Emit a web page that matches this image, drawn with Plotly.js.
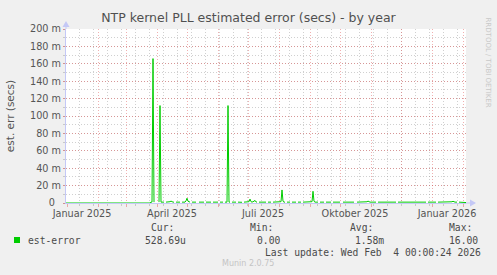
<!DOCTYPE html>
<html>
<head>
<meta charset="utf-8">
<script src="https://cdn.plot.ly/plotly-3.0.1.min.js"></script>
<style>
  html, body { margin: 0; padding: 0; background: #f0f0f0; }
  #chart { width: 497px; height: 275px; }
</style>
</head>
<body>
<div id="chart"></div>
<script>
// ---------- data (values in milliseconds) ----------
const titleText = 'NTP kernel PLL estimated error (secs) - by year';
const yTitleText = 'est. err (secs)';
const seriesName = 'est-error';
const xRange = ['2024-12-31', '2026-02-04'];

const earlyDates = ['2024-12-31', '2025-03-25'];
const earlyValues = [0, 0];

const mainStart = [2025, 2, 26]; // 2025-03-26, one value per day
const mainValues = [
  // Mar 26-31
  1, 1, 166, 1, null, null,
  // Apr
  null, null, 1, 112, 1, 1, 0.8, 1, null, 1, 1, 1.2, 1, 1.5, 2.2, 1.2, 1, 1, null, 1, 1, 0.8, 1, 1, null, 1, 1, 1.2, 1, 2.5,
  // May
  5.5, 2, 1, 1, null, 1, 1, 1.2, 1, 1, null, null, 1, 1, 1, 1.4, 1, 1, null, 1, 1, 1, 0.8, 1, 1, null, 1, 1, 1.2, 1, 1,
  // Jun
  1, null, 1, 1, 1, 1, null, 1, 1, 1, 112, 1, 1, null, 1, 1, 1, 1.2, 1, null, 1, 1, 1, 1, 0.8, null, 1, 1, 1, 1,
  // Jul
  1, 1.5, 4.5, 1.5, 1, 1.2, 2, 3, 1.2, 1, null, 1, 1, 1, 1, 1, 1.2, 1.8, 1, null, 1, 1, 1, 1, null, 1, 1, 1, 1, 1, 1,
  // Aug
  1, 1, 1.5, 15, 2, 1, 1, null, 1, 1, 1, 1, null, 1, 1, 1, 1.2, 1, null, 1, 1, 1, 1, null, 1, 1, 1, 1, 1, 1, 1,
  // Sep
  1, 1, 1.5, 13.5, 2, 1, 1, 1, 1, null, 1, 1, 1, 1, 1, null, 1, 1, 1, 1, 1, 1, null, 1, 1, 1, 1, 1, 1, 1,
  // Oct
  1, null, null, 1, 1, 1, 1, 1, 1, 1, 1, 1, 1, 1, 1, null, null, 1, 1, 1, 1, 1, 1, 1, 1, 1, 1, 1.4, 2.2, 1.2, 1,
  // Nov
  1, 1, 1, 1, 1, 1, null, 1, 1, 1, 1, 1, 1, 1, 1, 1, 1, 1, 1, 1, 1, 1, 1, 1, 1, 1, null, 1, 1, 1,
  // Dec
  1, 1, 1, 1, 1, 1, 1, 1, 1, 1.2, 1, 1, 1, 1, 1, 1, 1, 1, 1, 1, 1, 1, 1, 1, 1, 1, null, 1, 1, 1, 1,
  // Jan 2026
  1, 1, 1, 1, 1, null, 1, 1, 1, 1, 1, 1, 1, 1, 1, 1, 1, 1, 1, 1, 1.4, 2, 1.3, 1, 1, 1, null, 1, 1, 1, 1,
  // Feb 1-4
  1, 1, 1, 0.53
];

const monthStarts = ['2025-01-01','2025-02-01','2025-03-01','2025-04-01','2025-05-01','2025-06-01',
  '2025-07-01','2025-08-01','2025-09-01','2025-10-01','2025-11-01','2025-12-01','2026-01-01','2026-02-01'];
const xLabelDates = ['2025-01-16','2025-04-16','2025-07-16','2025-10-16','2026-01-16'];
const xLabelTexts = ['Januar 2025','April 2025','Juli 2025','Oktober 2025','Januar 2026'];
const yTickVals = [0, 20, 40, 60, 80, 100, 120, 140, 160, 180, 200];
const yTickTexts = ['0\u00a0\u00a0','20 m','40 m','60 m','80 m','100 m','120 m','140 m','160 m','180 m','200 m'];

const statHeaders = ['Cur:', 'Min:', 'Avg:', 'Max:'];
const statValues = ['528.69u', '0.00', '1.58m', '16.00'];
const lastUpdate = 'Last update: Wed Feb\u00a0\u00a04 00:00:24 2026';
const versionText = 'Munin 2.0.75';
const sideText = 'RRDTOOL / TOBI OETIKER';

// ---------- build ----------
const mainDates = mainValues.map((_, i) =>
  new Date(Date.UTC(mainStart[0], mainStart[1], mainStart[2] + i)).toISOString().slice(0, 10));
const xs = earlyDates.concat(mainDates);
const ys = earlyValues.concat(mainValues);

// layout geometry (pixels)
const L = 66, T = 29, W = 400, H = 174;
const px = p => (p - L) / W;
const py = p => (T + H - p) / H;

const MAJOR = 'rgba(222,80,80,0.45)';
const MINOR = 'rgba(150,150,150,0.45)';
const AXIS = '#c4c8f6';
const TXT = '#555555';
const MONO = 'DejaVu Sans Mono, monospace';

const ann = [];
const colX = [149, 248, 348, 447];
statHeaders.forEach((h, i) => ann.push({text: h, x: px(colX[i]), y: py(227)}));
ann.push({text: seriesName, x: px(26), y: py(240)});
const valX = [143, 255, 353, 447];
statValues.forEach((v, i) => ann.push({text: v, x: px(valX[i]), y: py(240)}));
ann.forEach(a => Object.assign(a, {xref: 'paper', yref: 'paper', xanchor: 'left', yanchor: 'middle',
  showarrow: false, font: {family: MONO, size: 9.7, color: '#4a4a4a'}}));
ann.push({text: lastUpdate, x: px(483), y: py(252), xref: 'paper', yref: 'paper', xanchor: 'right',
  yanchor: 'middle', showarrow: false, font: {family: MONO, size: 9.7, color: '#4a4a4a'}});
ann.push({text: versionText, x: px(248), y: py(263), xref: 'paper', yref: 'paper', xanchor: 'center',
  yanchor: 'middle', showarrow: false, font: {family: 'DejaVu Sans', size: 8, color: '#c4c4c4'}});
ann.push({text: sideText, x: px(487.5), y: py(62), xref: 'paper', yref: 'paper', xanchor: 'center',
  yanchor: 'middle', textangle: 90, showarrow: false, font: {family: 'DejaVu Sans', size: 7, color: '#c8c8c8'}});

const shapes = [
  // legend swatch
  {type: 'rect', xref: 'paper', yref: 'paper', x0: px(14), x1: px(20), y0: py(243), y1: py(237),
   fillcolor: '#00cc00', line: {width: 0}},
  // axis extensions and arrows
  {type: 'line', xref: 'paper', yref: 'paper', x0: px(466), x1: px(471), y0: py(203), y1: py(203),
   line: {color: AXIS, width: 1}},
  {type: 'path', xref: 'paper', yref: 'paper', fillcolor: AXIS, line: {width: 0},
   path: `M ${px(476)} ${py(203)} L ${px(470)} ${py(199.5)} L ${px(470)} ${py(206.5)} Z`},
  {type: 'line', xref: 'paper', yref: 'paper', x0: px(66), x1: px(66), y0: py(29), y1: py(25),
   line: {color: AXIS, width: 1}},
  {type: 'path', xref: 'paper', yref: 'paper', fillcolor: AXIS, line: {width: 0},
   path: `M ${px(66)} ${py(21)} L ${px(62.5)} ${py(27)} L ${px(69.5)} ${py(27)} Z`}
];

const trace = {
  x: xs, y: ys, type: 'scatter', mode: 'lines', name: seriesName,
  line: {color: '#00cc00', width: 1}, connectgaps: false, hoverinfo: 'skip', showlegend: false
};
// empty trace so that the label axis (x2) is drawn
const labelAxisTrace = {x: [], y: [], xaxis: 'x2', yaxis: 'y', type: 'scatter', mode: 'lines',
  showlegend: false, hoverinfo: 'skip'};

const layout = {
  width: 497, height: 275,
  margin: {l: L, r: 497 - L - W, t: T, b: 275 - T - H, pad: 0},
  paper_bgcolor: '#f0f0f0', plot_bgcolor: '#ffffff',
  font: {family: 'DejaVu Sans', size: 9.7, color: TXT},
  showlegend: false,
  title: {text: titleText, x: 0.5, xref: 'container', xanchor: 'center', y: 1 - 18 / 275, yref: 'container',
    yanchor: 'middle', font: {family: 'DejaVu Sans', size: 12.5, color: '#505050'}},
  xaxis: {
    type: 'date', range: xRange, fixedrange: true,
    tickmode: 'array', tickvals: monthStarts, ticktext: monthStarts.map(() => ''),
    showticklabels: false, ticks: 'outside', ticklen: 3, tickcolor: MAJOR, tickwidth: 1,
    showgrid: true, gridcolor: MAJOR, griddash: '1px,2px', gridwidth: 1,
    minor: {tickmode: 'linear', tick0: '2025-01-13', dtick: 14 * 86400000, showgrid: true,
      gridcolor: MINOR, griddash: '1px,2px', ticks: 'outside', ticklen: 2, tickcolor: MINOR},
    showline: true, linecolor: AXIS, linewidth: 1, zeroline: false
  },
  xaxis2: {
    type: 'date', range: xRange, overlaying: 'x', anchor: 'y', side: 'bottom', fixedrange: true,
    tickmode: 'array', tickvals: xLabelDates, ticktext: xLabelTexts,
    showgrid: false, ticks: '', showline: false, zeroline: false,
    tickfont: {family: 'DejaVu Sans', size: 9.7, color: TXT}, ticklabelstandoff: 3
  },
  yaxis: {
    range: [0, 200], fixedrange: true,
    tickmode: 'array', tickvals: yTickVals, ticktext: yTickTexts,
    ticks: 'outside', ticklen: 2, tickcolor: MAJOR,
    showgrid: true, gridcolor: MAJOR, griddash: '1px,2px',
    minor: {tickmode: 'linear', tick0: 0, dtick: 10, showgrid: true, gridcolor: MINOR, griddash: '1px,2px',
      ticks: 'outside', ticklen: 2, tickcolor: MINOR},
    showline: true, linecolor: AXIS, linewidth: 1, zeroline: false,
    tickfont: {family: 'DejaVu Sans', size: 9.7, color: TXT},
    title: {text: yTitleText, standoff: 13, font: {family: 'DejaVu Sans', size: 10.5, color: TXT}}
  },
  annotations: ann,
  shapes: shapes
};

Plotly.newPlot('chart', [trace, labelAxisTrace], layout, {displayModeBar: false, staticPlot: true});
</script>
</body>
</html>
